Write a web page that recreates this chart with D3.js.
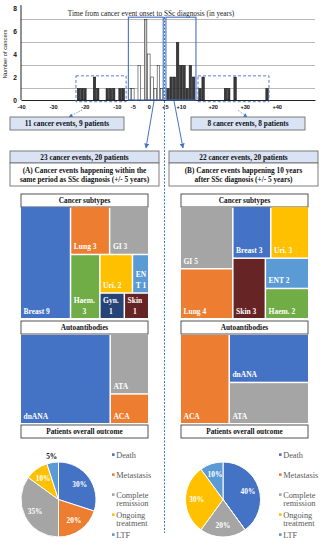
<!DOCTYPE html>
<meta charset="utf-8">
<style>
body { margin: 0; background: #fff; }
text { font-family: "Liberation Serif", "Times New Roman", serif; }
.axis text { font-family: "Liberation Sans", Arial, sans-serif; font-weight: bold; font-size: 5.6px; fill: #111; }
.axis.axis--y text { font-size: 6.6px; }
.box-text { font-weight: bold; font-size: 7.3px; fill: #111; }
.cell-label { fill: #fff; font-weight: bold; font-size: 7.5px; }
.pie-label { font-weight: bold; font-size: 7.4px; }
.legend text { fill: #595959; font-size: 8.3px; }
</style>
<svg width="324" height="550" id="fig"></svg>
<script src="https://cdn.jsdelivr.net/npm/d3@7"></script>
<script>

// cancer events per year, relative to SSc diagnosis
var beforeYears = [-22, -21, -20, -17, -16, -13, -12, -11, -9, -8],
    beforeCounts = [1, 1, 1, 2, 1, 1, 1, 1, 1, 1],
    withinYears = [-6, -5, -3, -1, 0, 1, 2, 3, 4],
    withinCounts = [1, 1, 3, 7, 4, 2, 1, 3, 1],
    afterYears = [6, 7, 8, 9, 10, 11, 12, 13, 14],
    afterCounts = [1, 2, 2, 5, 3, 3, 1, 3, 2],
    lateYears = [16, 17, 24, 25, 27, 37],
    lateCounts = [1, 2, 1, 1, 2, 1];
var xTicks = [-40, -30, -20, -10, -5, 0, 5, 10, 20, 30, 40],
    yTicks = [0, 2, 4, 6, 8],
    gridValues = [1, 3, 5, 7];

// treemaps
var subtypesA = ["Breast", "Lung", "GI", "Haem.", "Uri.", "ENT", "Gyn.", "Skin"],
    subtypeCountsA = [9, 3, 3, 3, 2, 1, 1, 1],
    subtypesB = ["GI", "Lung", "Breast", "Uri.", "Skin", "ENT", "Haem."],
    subtypeCountsB = [5, 4, 3, 3, 3, 2, 2];
var antibodiesA = ["dnANA", "ATA", "ACA"],
    antibodyCountsA = [14, 4, 2],
    antibodiesB = ["ACA", "dnANA", "ATA"],
    antibodyCountsB = [8, 7, 6];
// how cells are grouped (indices), split alternately across / down
var groupSubA = [0, [[1, 2], [3, [[4, 5], [6, 7]]]]],
    groupSubB = [[0, 1], [[2, 3], [4, [5, 6]]]],
    groupAb = [0, [1, 2]];

// outcome pies (%)
var outcomes = ["Death", "Metastasis", "Complete remission", "Ongoing treatment", "LTF"],
    outcomeA = [30, 20, 35, 10, 5],
    outcomeB = [40, 0, 20, 30, 10];

var blue = "#4472c4";
var subtypeColor = d3.scaleOrdinal()
    .domain(["Breast", "Lung", "GI", "Haem.", "Uri.", "ENT", "Gyn.", "Skin"])
    .range(["#4472c4", "#ed7d31", "#a5a5a5", "#70ad47", "#ffc000", "#5b9bd5", "#264478", "#672424"]);
var antibodyColor = d3.scaleOrdinal()
    .domain(["dnANA", "ATA", "ACA"])
    .range(["#4472c4", "#a5a5a5", "#ed7d31"]);
var outcomeColor = d3.scaleOrdinal()
    .domain(outcomes)
    .range(["#4472c4", "#ed7d31", "#a5a5a5", "#ffc000", "#5b9bd5"]);

var svg = d3.select("#fig");

svg.append("defs").append("marker")
    .attr("id", "arrow")
    .attr("viewBox", "0 0 10 10")
    .attr("refX", 9).attr("refY", 5)
    .attr("markerWidth", 5).attr("markerHeight", 5)
    .attr("orient", "auto")
  .append("path")
    .attr("d", "M0,0L10,5L0,10z")
    .attr("fill", blue);

// ---------- histogram ----------
var x = d3.scaleLinear().domain([-40, 52]).range([21, 315]),
    y = d3.scaleLinear().domain([0, 8]).range([100, 8]);

var hist = svg.append("g");

hist.selectAll(".grid")
  .data(gridValues)
  .enter().append("line")
    .attr("x1", x(-40)).attr("x2", x(52))
    .attr("y1", function(d) { return y(d); })
    .attr("y2", function(d) { return y(d); })
    .attr("stroke", "#8a8a8a")
    .attr("stroke-width", 0.6);

function drawBars(years, counts, fill) {
  hist.append("g").selectAll("rect")
    .data(years)
    .enter().append("rect")
      .attr("x", function(d) { return x(d) - 1.25; })
      .attr("width", 2.5)
      .attr("y", function(d, i) { return y(counts[i]); })
      .attr("height", function(d, i) { return y(0) - y(counts[i]); })
      .attr("fill", fill)
      .attr("stroke", "#151515")
      .attr("stroke-width", 0.5);
}
drawBars(beforeYears, beforeCounts, "#3a3a3a");
drawBars(withinYears, withinCounts, function(d) { return d === -1 ? "#c9c9c9" : "#fff"; });
drawBars(afterYears, afterCounts, "#3a3a3a");
drawBars(lateYears, lateCounts, "#3a3a3a");

hist.append("g")
    .attr("class", "axis axis--x")
    .attr("transform", "translate(0," + y(0) + ")")
    .call(d3.axisBottom(x).tickValues(xTicks).tickSize(0).tickPadding(5)
          .tickFormat(function(d) { return d > 0 ? "+" + d : String(d); }))
    .select(".domain").attr("stroke", "#222");

hist.append("g")
    .attr("class", "axis axis--y")
    .attr("transform", "translate(" + x(-40) + ",0)")
    .call(d3.axisLeft(y).tickValues(yTicks).tickSize(0).tickPadding(4))
    .select(".domain").remove();
hist.append("line")
    .attr("x1", x(-40)).attr("x2", x(-40))
    .attr("y1", y(0)).attr("y2", y(8.25))
    .attr("stroke", "#222");

hist.append("text")
    .attr("transform", "translate(7," + y(4) + ") rotate(-90)")
    .attr("text-anchor", "middle")
    .style("font-family", "'Liberation Sans', Arial, sans-serif")
    .style("font-size", "5.8px")
    .attr("fill", "#222")
    .text("Number of cancers");

hist.append("text")
    .attr("x", 151).attr("y", 15.5)
    .attr("text-anchor", "middle")
    .style("font-size", "7.3px")
    .attr("fill", "#222")
    .text("Time from cancer event onset to SSc diagnosis (in years)");

// highlight boxes (in data units)
function rangeBox(y0, y1, v0, v1, dashed) {
  hist.append("rect")
      .attr("x", x(y0)).attr("width", x(y1) - x(y0))
      .attr("y", y(v1)).attr("height", y(v0) - y(v1))
      .attr("fill", "none")
      .attr("stroke", blue)
      .attr("stroke-width", dashed ? 0.9 : 1.1)
      .attr("stroke-dasharray", dashed ? "3,2" : null);
}
rangeBox(-6.4, 4.5, 0, 7.2, false);
rangeBox(5.35, 14.75, 0, 7.2, false);
rangeBox(-22.8, -7.1, -0.15, 2.1, true);
rangeBox(15.4, 37.6, -0.15, 2.1, true);

// central dashed divider
svg.append("line")
    .attr("x1", 164.5).attr("x2", 164.5)
    .attr("y1", 17).attr("y2", 533)
    .attr("stroke", blue)
    .attr("stroke-width", 1)
    .attr("stroke-dasharray", "2,1.5");

function arrow(x1, y1, x2, y2, dotted) {
  svg.append("line")
      .attr("x1", x1).attr("y1", y1).attr("x2", x2).attr("y2", y2)
      .attr("stroke", blue)
      .attr("stroke-width", dotted ? 0.8 : 1)
      .attr("stroke-dasharray", dotted ? "1,1" : null)
      .attr("marker-end", "url(#arrow)");
}
arrow(82, 110, 69, 117, true);
arrow(238, 110, 247, 117, true);
arrow(154, 101, 146, 148, false);
arrow(174, 101, 183, 148, false);

// ---------- text boxes ----------
function box(x0, y0, w, h, fill, lines, stroke) {
  svg.append("rect")
      .attr("x", x0).attr("y", y0).attr("width", w).attr("height", h)
      .attr("fill", fill)
      .attr("stroke", stroke || "#6f6f6f")
      .attr("stroke-width", 0.9);
  var lh = 9;
  lines.forEach(function(t, i) {
    svg.append("text")
        .attr("class", "box-text")
        .attr("x", x0 + w / 2)
        .attr("y", y0 + h / 2 + (i - (lines.length - 1) / 2) * lh)
        .attr("dy", "0.35em")
        .attr("text-anchor", "middle")
        .text(t);
  });
}
var lightBlue = "#dae3f3";
box(10, 117, 114, 13, lightBlue, ["11 cancer events, 9 patients"]);
box(191, 117, 114, 13, lightBlue, ["8 cancer events, 8 patients"]);
box(10, 151, 149, 12, lightBlue, ["23 cancer events, 20 patients"]);
box(10, 163, 149, 23, "#fff", ["(A) Cancer events happening within the", "same period as SSc diagnosis (+/- 5 years)"]);
box(169, 151, 149, 12, lightBlue, ["22 cancer events, 20 patients"]);
box(169, 163, 149, 23, "#fff", ["(B) Cancer events happening 10 years", "after SSc diagnosis (+/- 5 years)"]);

// ---------- treemaps ----------
var measurer = svg.append("text").attr("class", "cell-label").attr("visibility", "hidden");
function textWidth(s) { measurer.text(s); return measurer.node().getComputedTextLength(); }

function wrap(str, maxW) {
  var lines = [], cur = "";
  str.split(" ").forEach(function(w) {
    var trial = cur ? cur + " " + w : w;
    if (textWidth(trial) <= maxW) { cur = trial; return; }
    if (cur) lines.push(cur);
    cur = "";
    while (w.length > 1 && textWidth(w) > maxW) {
      var k = w.length - 1;
      while (k > 1 && textWidth(w.slice(0, k)) > maxW) k--;
      lines.push(w.slice(0, k));
      w = w.slice(k);
    }
    cur = w;
  });
  if (cur) lines.push(cur);
  return lines;
}

function toTree(spec, names, counts) {
  if (typeof spec === "number") return {name: names[spec], value: counts[spec]};
  return {children: spec.map(function(s) { return toTree(s, names, counts); })};
}

function treemap(x0, y0, w, h, names, counts, grouping, color) {
  var root = d3.hierarchy(toTree(grouping, names, counts))
      .sum(function(d) { return d.value || 0; });
  d3.treemap()
      .size([w, h])
      .paddingInner(1.5)
      .tile(d3.treemapSliceDice)(root);

  var g = svg.append("g").attr("transform", "translate(" + x0 + "," + y0 + ")");
  var cell = g.selectAll("g")
    .data(root.leaves())
    .enter().append("g");

  cell.append("rect")
      .attr("x", function(d) { return d.x0; })
      .attr("y", function(d) { return d.y0; })
      .attr("width", function(d) { return d.x1 - d.x0; })
      .attr("height", function(d) { return d.y1 - d.y0; })
      .attr("fill", function(d) { return color(d.data.name); });

  cell.each(function(d) {
    var label = d.data.name;
    if (names === subtypesA || names === subtypesB) label += " " + d.data.value;
    var lines = wrap(label, d.x1 - d.x0 - 4);
    var widths = lines.map(textWidth),
        blockW = d3.max(widths);
    lines.forEach(function(t, i) {
      d3.select(this).append("text")
          .attr("class", "cell-label")
          .attr("x", d.x0 + 2.5 + (blockW - widths[i]) / 2)
          .attr("y", d.y1 - 4.5 - (lines.length - 1 - i) * 10.5)
          .text(t);
    }, this);
  });
}

function panel(x0, subNames, subCounts, subGroup, abNames, abCounts, pieValues, pieCx, legendX) {
  var w = 127;
  box(x0, 194, w, 13, "#fff", ["Cancer subtypes"], "#404040");
  treemap(x0, 207, w, 111, subNames, subCounts, subGroup, subtypeColor);
  box(x0, 321, w, 13, "#fff", ["Autoantibodies"], "#404040");
  treemap(x0, 335, w, 88, abNames, abCounts, groupAb, antibodyColor);
  box(x0, 425, w, 13, "#fff", ["Patients overall outcome"], "#404040");

  // pie
  var r = 37.5, cy = 499.5;
  var pie = d3.pie().sort(null).value(function(d) { return d; });
  var arc = d3.arc().innerRadius(0).outerRadius(r);
  var arcs = pie(pieValues);
  var pg = svg.append("g").attr("transform", "translate(" + pieCx + "," + cy + ")");
  pg.selectAll("path")
    .data(arcs)
    .enter().append("path")
      .attr("d", arc)
      .attr("fill", function(d, i) { return outcomeColor(outcomes[i]); })
      .attr("stroke", "#fff")
      .attr("stroke-width", 1);
  pg.selectAll(".pie-label")
    .data(arcs.filter(function(d) { return d.value > 0; }))
    .enter().append("text")
      .attr("class", "pie-label")
      .attr("text-anchor", "middle")
      .attr("dy", "0.35em")
      .attr("fill", function(d) { return d.value < 8 ? "#111" : "#fff"; })
      .attr("transform", function(d) {
        var a = (d.startAngle + d.endAngle) / 2,
            rr = d.value < 8 ? r + 6 : r * 0.7;
        return "translate(" + (Math.sin(a) * rr) + "," + (-Math.cos(a) * rr) + ")";
      })
      .text(function(d) { return d.value + "%"; });

  // legend
  var lg = svg.append("g").attr("class", "legend");
  outcomes.forEach(function(name, i) {
    var by = 457.5 + i * 20;
    lg.append("rect")
        .attr("x", legendX).attr("y", by - 4.2)
        .attr("width", 2.6).attr("height", 2.6)
        .attr("fill", outcomeColor(name));
    name.split(" ").forEach(function(t, j) {
      lg.append("text")
          .attr("x", legendX + 4.2)
          .attr("y", by + j * 8.3)
          .text(t);
    });
  });
}

panel(21, subtypesA, subtypeCountsA, groupSubA, antibodiesA, antibodyCountsA, outcomeA, 58.5, 112);
panel(181, subtypesB, subtypeCountsB, groupSubB, antibodiesB, antibodyCountsB, outcomeB, 223, 279);

measurer.remove();

</script>
